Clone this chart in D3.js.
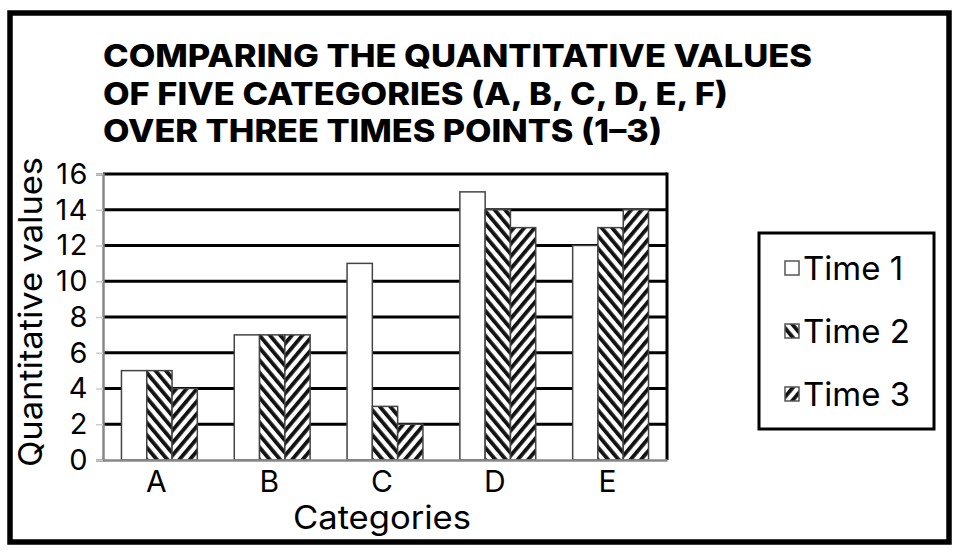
<!DOCTYPE html>
<html>
<head>
<meta charset="utf-8">
<script src="https://cdn.jsdelivr.net/npm/d3@7"></script>
<style>
  body { margin: 0; background: #fff; }
  svg { display: block; }
</style>
</head>
<body>
<div id="chart"></div>
<script>
// chart data
const categories = ["A", "B", "C", "D", "E"];
const series = ["Time 1", "Time 2", "Time 3"];
const time1 = [5, 7, 11, 15, 12];
const time2 = [5, 7, 3, 14, 13];
const time3 = [4, 7, 2, 13, 14];
const yTicks = [0, 2, 4, 6, 8, 10, 12, 14, 16];
const titleLines = [
  "COMPARING THE QUANTITATIVE VALUES",
  "OF FIVE CATEGORIES (A, B, C, D, E, F)",
  "OVER THREE TIMES POINTS (1\u20133)"
];
const titleWidths = [709, 625, 559];

const width = 962, height = 553;
const plot = { left: 103, right: 667, top: 174, bottom: 460 };
const font = "Inter, 'Liberation Sans', sans-serif";

const values = [time1, time2, time3];
const rows = categories.map((c, i) => ({
  cat: c,
  bars: series.map((s, j) => ({ key: s, value: values[j][i] }))
}));

const svg = d3.select("#chart")
  .append("svg")
  .attr("width", width)
  .attr("height", height);

// hatch patterns: Time 2 "\" stripes, Time 3 "/" stripes
const defs = svg.append("defs");
const fills = { "Time 1": "#fff", "Time 2": "url(#hatch2)", "Time 3": "url(#hatch3)" };
[["hatch2", -40], ["hatch3", 40]].forEach(([id, ang]) => {
  const p = defs.append("pattern")
    .attr("id", id)
    .attr("patternUnits", "userSpaceOnUse")
    .attr("width", 8)
    .attr("height", 8)
    .attr("patternTransform", `rotate(${ang})`);
  p.append("rect").attr("width", 8).attr("height", 8).attr("fill", "#fff");
  p.append("rect").attr("width", 3.8).attr("height", 8).attr("fill", "#111");
});

// outer frame
svg.append("rect")
  .attr("x", 10).attr("y", 13)
  .attr("width", 939).attr("height", 529)
  .attr("fill", "none")
  .attr("stroke", "#000")
  .attr("stroke-width", 5.5);

// title, each line stretched to the width it has in the picture
svg.append("g")
  .attr("font-family", font)
  .attr("font-weight", 800)
  .selectAll("text")
  .data(titleLines)
  .enter()
  .append("text")
  .attr("x", 103)
  .attr("y", (d, i) => 67 + i * 37.5)
  .attr("font-size", 31)
  .attr("textLength", (d, i) => titleWidths[i])
  .attr("lengthAdjust", "spacingAndGlyphs")
  .text(d => d);

// scales
const x0 = d3.scaleBand()
  .domain(categories)
  .range([plot.left, plot.right]);

const x1 = d3.scaleBand()
  .domain(series)
  .range([0, x0.bandwidth()])
  .paddingOuter(0.73);

const y = d3.scaleLinear()
  .domain([0, 16])
  .range([plot.bottom, plot.top]);

// gridlines
svg.append("g")
  .selectAll("line")
  .data(yTicks.filter(t => t > 0))
  .enter()
  .append("line")
  .attr("x1", plot.left).attr("x2", plot.right)
  .attr("y1", d => y(d)).attr("y2", d => y(d))
  .attr("stroke", "#000")
  .attr("stroke-width", 3);

// right border
svg.append("line")
  .attr("x1", plot.right).attr("x2", plot.right)
  .attr("y1", y(16) - 1.5).attr("y2", plot.bottom)
  .attr("stroke", "#000")
  .attr("stroke-width", 3);

// bars
const groups = svg.append("g")
  .selectAll("g")
  .data(rows)
  .enter()
  .append("g")
  .attr("transform", d => `translate(${x0(d.cat)},0)`);

groups.selectAll("rect")
  .data(d => d.bars)
  .enter()
  .append("rect")
  .attr("x", d => x1(d.key))
  .attr("y", d => y(d.value))
  .attr("width", x1.bandwidth())
  .attr("height", d => y(0) - y(d.value))
  .attr("fill", d => fills[d.key])
  .attr("stroke", "#444")
  .attr("stroke-width", 1.5);

// y axis
const yAxis = svg.append("g")
  .attr("transform", `translate(${plot.left},0)`)
  .call(d3.axisLeft(y).tickValues(yTicks).tickSize(7).tickPadding(8));
yAxis.select(".domain").attr("stroke", "#888").attr("stroke-width", 2.5);
yAxis.selectAll(".tick line").attr("stroke", "#ccc").attr("stroke-width", 1.5);
yAxis.selectAll(".tick text")
  .attr("font-family", font)
  .attr("font-size", 29)
  .attr("letter-spacing", "1.5px")
  .attr("fill", "#000")
  .attr("x", -14);

// x axis
const xAxis = svg.append("g")
  .attr("transform", `translate(0,${plot.bottom})`)
  .call(d3.axisBottom(x0).tickSize(0).tickPadding(11));
xAxis.select(".domain").attr("stroke", "#888").attr("stroke-width", 2.5);
xAxis.selectAll(".tick text")
  .attr("font-family", font)
  .attr("font-size", 30)
  .attr("fill", "#000")
  .attr("x", -3);

// axis titles
svg.append("text")
  .attr("x", 293)
  .attr("y", 529)
  .attr("font-family", font)
  .attr("font-size", 32)
  .attr("textLength", 178)
  .attr("lengthAdjust", "spacingAndGlyphs")
  .text("Categories");

svg.append("text")
  .attr("transform", "translate(42,467) rotate(-90)")
  .attr("font-family", font)
  .attr("font-size", 32)
  .attr("textLength", 310)
  .attr("lengthAdjust", "spacingAndGlyphs")
  .text("Quantitative values");

// legend
const legend = svg.append("g");
legend.append("rect")
  .attr("x", 759).attr("y", 233)
  .attr("width", 175).attr("height", 196)
  .attr("fill", "#fff")
  .attr("stroke", "#000")
  .attr("stroke-width", 3);

const item = legend.selectAll("g.item")
  .data(series)
  .enter()
  .append("g")
  .attr("class", "item")
  .attr("transform", (d, i) => `translate(785,${268 + i * 63})`);

item.append("rect")
  .attr("x", 0).attr("y", -7)
  .attr("width", 14).attr("height", 14)
  .attr("fill", d => fills[d])
  .attr("stroke", "#555")
  .attr("stroke-width", 1.5);

item.append("text")
  .attr("x", 18)
  .attr("dy", "0.36em")
  .attr("font-family", font)
  .attr("font-size", 33)
  .text(d => d);
</script>
</body>
</html>
